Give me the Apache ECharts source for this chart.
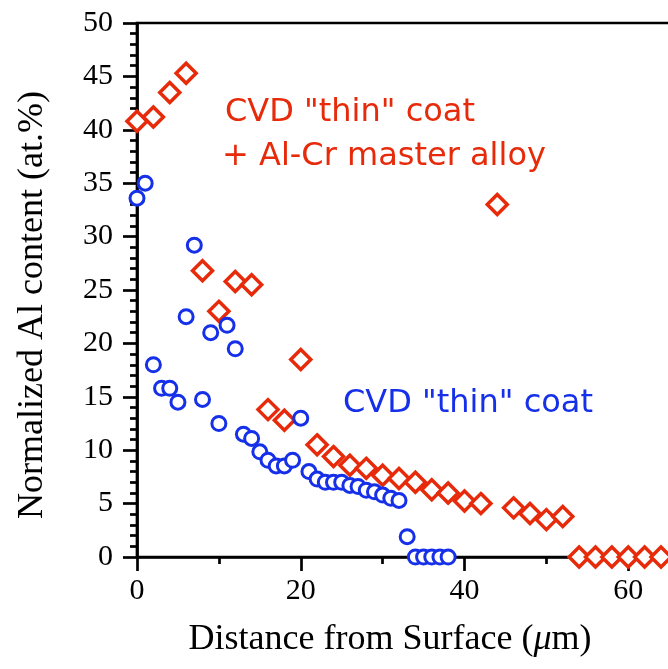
<!DOCTYPE html>
<html>
<head>
<meta charset="utf-8">
<script src="https://cdn.jsdelivr.net/npm/echarts@6/dist/echarts.min.js"></script>
<style>html,body{margin:0;padding:0;background:#fff;}#c{width:668px;height:669px;}</style>
</head>
<body>
<div id="c"></div>
<script>
// Data
var blueX = [0,1,2,3,4,5,6,7,8,9,10,11,12,13,14,15,16,17,18,19,20,21,22,23,24,25,26,27,28,29,30,31,32,33,34,35,36,37,38];
var blueY = [33.6,35.0,18.0,15.8,15.8,14.5,22.5,29.2,14.75,21.0,12.5,21.7,19.5,11.5,11.1,9.85,9.06,8.53,8.53,9.06,13.0,8.0,7.3,7.0,7.0,7.0,6.7,6.6,6.25,6.1,5.8,5.5,5.3,1.9,0,0,0,0,0];
var redX = [0,2,4,6,8,10,12,14,16,18,20,22,24,26,28,30,32,34,36,38,40,42,44,46,48,50,52,54,56,58,60,62,64];
var redY = [40.8,41.2,43.5,45.3,26.8,23.0,25.8,25.5,13.8,12.8,18.5,10.5,9.4,8.6,8.3,7.65,7.35,7.0,6.3,6.0,5.25,5.0,33.0,4.6,4.07,3.5,3.8,0,0,0,0,0,0];
var xTitle = ['Distance from Surface (', 'μ', 'm)'];
var yTitle = 'Normalized Al content (at.%)';
var redLabel1 = 'CVD "thin" coat';
var redLabel2 = '+ Al-Cr master alloy';
var blueLabel = 'CVD "thin" coat';

var RED = '#e62a0a', BLUE = '#1530e8';
function pairs(xs, ys){ return xs.map(function(x,i){ return [x, ys[i]]; }); }

var chart = echarts.init(document.getElementById('c'), null, {renderer:'canvas'});
var serif = 'Liberation Serif';
var axisCommon = {
  axisLine:{show:true, lineStyle:{color:'#000', width:2.7}},
  axisTick:{show:true, inside:false, length:14, lineStyle:{color:'#000', width:2.7}},
  minorTick:{show:true, length:7, lineStyle:{color:'#000', width:2.7}},
  splitLine:{show:false},
  axisLabel:{color:'#000', fontFamily:serif, fontSize:30}
};
chart.setOption({
  animation:false,
  backgroundColor:'#fff',
  grid:{left:137, top:23, bottom:112, right:-124, containLabel:false, outerBoundsMode:'none',
        show:true, borderColor:'#000', borderWidth:2.7, backgroundColor:'transparent'},
  xAxis: Object.assign({}, axisCommon, {
    type:'value', min:0, max:80, interval:20,
    minorTick:{show:true, splitNumber:2, length:7, lineStyle:{color:'#000', width:2.7}},
    axisLabel:Object.assign({}, axisCommon.axisLabel, {margin:19})
  }),
  yAxis: Object.assign({}, axisCommon, {
    type:'value', min:0, max:50, interval:5,
    minorTick:{show:true, splitNumber:5, length:7, lineStyle:{color:'#000', width:2.7}},
    axisLabel:Object.assign({}, axisCommon.axisLabel, {margin:24})
  }),
  series:[
    {type:'scatter', data:pairs(redX, redY), symbol:'diamond', symbolSize:20,
     itemStyle:{color:'#fff', opacity:1, borderColor:RED, borderWidth:3.5}},
    {type:'scatter', data:pairs(blueX, blueY), symbol:'circle', symbolSize:14,
     itemStyle:{color:'#fff', opacity:1, borderColor:BLUE, borderWidth:3}}
  ],
  graphic:[
    {type:'text', x:390, y:640, style:{text:'{n|'+xTitle[0]+'}{i|'+xTitle[1]+'}{n|'+xTitle[2]+'}',
      align:'center', verticalAlign:'middle', textAlign:'center', textVerticalAlign:'middle',
      rich:{n:{fontFamily:serif, fontSize:36, fill:'#000', color:'#000'}, i:{fontFamily:serif, fontSize:36, fontStyle:'italic', fill:'#000', color:'#000'}}}},
    {type:'text', x:33, y:305, rotation:Math.PI/2, style:{text:yTitle, font:'36px "Liberation Serif"', fill:'#000',
      align:'center', verticalAlign:'middle', textAlign:'center', textVerticalAlign:'middle'}},
    {type:'text', x:225, y:113, style:{text:redLabel1, font:'32px "DejaVu Sans"', fill:RED, align:'left', verticalAlign:'middle', textAlign:'left', textVerticalAlign:'middle'}},
    {type:'text', x:222, y:157, style:{text:redLabel2, font:'32px "DejaVu Sans"', fill:RED, align:'left', verticalAlign:'middle', textAlign:'left', textVerticalAlign:'middle'}},
    {type:'text', x:343, y:404, style:{text:blueLabel, font:'32px "DejaVu Sans"', fill:BLUE, align:'left', verticalAlign:'middle', textAlign:'left', textVerticalAlign:'middle'}}
  ]
});
</script>
</body>
</html>
